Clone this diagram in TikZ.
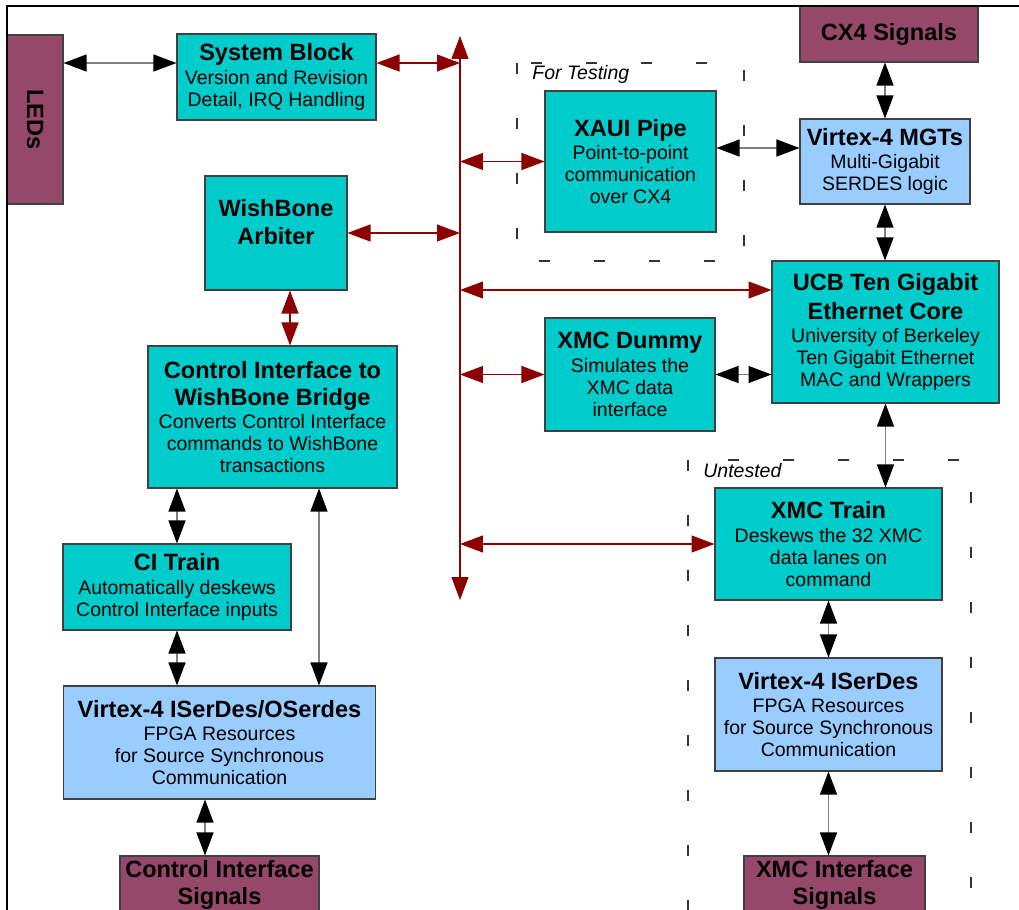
\documentclass[tikz,border=0pt]{standalone}
\usepackage{fontspec}
\setmainfont{Liberation Sans}
\usepackage{graphicx}
\usetikzlibrary{arrows.meta}
\definecolor{coreteal}{RGB}{0,204,204}
\definecolor{hwblue}{RGB}{153,204,255}
\definecolor{sigmaroon}{RGB}{150,72,106}
\definecolor{busred}{RGB}{140,0,0}
\newcommand{\ttl}{\fontsize{13.4}{16}\selectfont\bfseries}
\newcommand{\txt}{\fontsize{11.1}{12.5}\selectfont}

\begin{document}
\begin{tikzpicture}[x=0.02cm,y=-0.02cm,
    box/.style={draw=black!75,line width=0.6pt,align=center,inner sep=0pt,font=\txt},
    core/.style={box,fill=coreteal},
    hw/.style={box,fill=hwblue},
    sig/.style={box,fill=sigmaroon},
    buslink/.style={draw=busred,line width=0.6pt,{Triangle[length=0.46cm,width=0.34cm]}-{Triangle[length=0.46cm,width=0.34cm]}},
    link/.style={draw=black!50,line width=0.6pt,{Triangle[length=0.46cm,width=0.34cm,black]}-{Triangle[length=0.46cm,width=0.34cm,black]}},
    testarea/.style={draw=black!80,line width=0.6pt,dash pattern=on 0.22cm off 0.88cm},
    arealabel/.style={font=\txt\itshape,anchor=base west,inner sep=0pt}]
            \useasboundingbox (0,0) rectangle (1019,910);
            \clip (0,0) rectangle (1019,910);
            \draw[testarea] (517,63) rectangle (744,261);
            \draw[testarea] (688,460) rectangle (971,1000);
            \node[arealabel] (fortest) at (532,79) {For Testing};
            \node[arealabel] (untest) at (703,477) {Untested};
            \node[sig,minimum width=1.12cm,minimum height=3.38cm] (leds) at (35,119.5) {\rotatebox{-90}{\ttl LEDs}};
            \node[core,minimum width=3.98cm,minimum height=1.72cm] (sys) at (276.5,77) {{\ttl System Block}\\[1pt]Version and Revision\\Detail, IRQ Handling};
            \node[core,minimum width=2.84cm,minimum height=2.28cm] (arb) at (276,233) {{\ttl WishBone}\\[3pt]{\ttl Arbiter}\\ ~};
            \node[core,minimum width=4.98cm,minimum height=2.84cm] (bridge) at (272.5,417) {{\ttl Control Interface to}\\[3pt]{\ttl WishBone Bridge}\\[1pt]Converts Control Interface\\commands to WishBone\\transactions};
            \node[core,minimum width=4.56cm,minimum height=1.72cm] (citrain) at (177,587) {{\ttl CI Train}\\[1pt]Automatically deskews\\Control Interface inputs};
            \node[hw,minimum width=6.26cm,minimum height=2.26cm] (oser) at (219.5,742.5) {{\ttl Virtex-4 ISerDes/OSerdes}\\[1pt]FPGA Resources\\for Source Synchronous\\Communication};
            \node[sig,minimum width=3.98cm,minimum height=1.16cm] (cisig) at (219.5,885) {{\ttl Control Interface}\\[3pt]{\ttl Signals}};
            \node[core,minimum width=3.42cm,minimum height=2.82cm] (xaui) at (630.5,161.5) {{\ttl XAUI Pipe}\\[1pt]Point-to-point\\communication\\over CX4};
            \node[hw,minimum width=3.40cm,minimum height=1.70cm] (mgt) at (885,161.5) {{\ttl Virtex-4 MGTs}\\[1pt]Multi-Gigabit\\SERDES logic};
            \node[sig,minimum width=3.56cm,minimum height=1.12cm] (cx4) at (889,34) {\ttl CX4 Signals};
            \node[core,minimum width=4.54cm,minimum height=2.84cm] (ucb) at (885.5,332) {{\ttl UCB Ten Gigabit}\\[3pt]{\ttl Ethernet Core}\\[1pt]University of Berkeley\\Ten Gigabit Ethernet\\MAC and Wrappers};
            \node[core,minimum width=3.40cm,minimum height=2.26cm] (dummy) at (630,374.5) {{\ttl XMC Dummy}\\[1pt]Simulates the\\XMC data\\interface};
            \node[core,minimum width=4.54cm,minimum height=2.24cm] (xtrain) at (828.5,544) {{\ttl XMC Train}\\[1pt]Deskews the 32 XMC\\data lanes on\\command};
            \node[hw,minimum width=4.54cm,minimum height=2.26cm] (iser) at (828.5,714.5) {{\ttl Virtex-4 ISerDes}\\[1pt]FPGA Resources\\for Source Synchronous\\Communication};
            \node[sig,minimum width=3.62cm,minimum height=1.16cm] (xsig) at (834.5,885) {{\ttl XMC Interface}\\[3pt]{\ttl Signals}};
            \coordinate (bustop) at (460,36);
            \coordinate (busbot) at (460,600);
            \draw[buslink] (bustop) -- (busbot);
            \coordinate (sysbus) at ([yshift=0.28cm]sys.east);
            \draw[buslink] (sysbus) -- (sysbus -| bustop);
            \draw[buslink] (arb.east) -- (arb.east -| bustop);
            \draw[buslink] (xaui.west -| bustop) -- (xaui.west);
            \coordinate (ucbbus) at ([yshift=0.84cm]ucb.west);
            \draw[buslink] (ucbbus -| bustop) -- (ucbbus);
            \draw[buslink] (dummy.west -| bustop) -- (dummy.west);
            \draw[buslink] (xtrain.west -| bustop) -- (xtrain.west);
            \coordinate (arbout) at ([xshift=0.28cm]arb.south);
            \draw[buslink] (arbout) -- (arbout |- bridge.north);
            \coordinate (sysled) at ([yshift=0.28cm]sys.west);
            \draw[link] (leds.east |- sysled) -- (sysled);
            \coordinate (xauimgt) at ([yshift=0.27cm]xaui.east);
            \draw[link] (xauimgt) -- (xauimgt -| mgt.west);
            \draw[link] (cx4.south -| mgt.north) -- (mgt.north);
            \draw[link] (mgt.south) -- (mgt.south |- ucb.north);
            \draw[link] (dummy.east) -- (dummy.east -| ucb.west);
            \draw[link] (ucb.south) -- (ucb.south |- xtrain.north);
            \draw[link] (xtrain.south) -- (iser.north);
            \draw[link] (iser.south) -- (iser.south |- xsig.north);
            \draw[link] (citrain.north |- bridge.south) -- (citrain.north);
            \coordinate (brout) at ([xshift=0.93cm]bridge.south);
            \draw[link] (brout) -- (brout |- oser.north);
            \draw[link] (citrain.south) -- (citrain.south |- oser.north);
            \coordinate (oserout) at ([xshift=-0.29cm]oser.south);
            \draw[link] (oserout) -- (oserout |- cisig.north);
            \draw[line width=0.6pt] (7,920) -- (7,6) -- (1019,6);
        \end{tikzpicture}
\end{document}
